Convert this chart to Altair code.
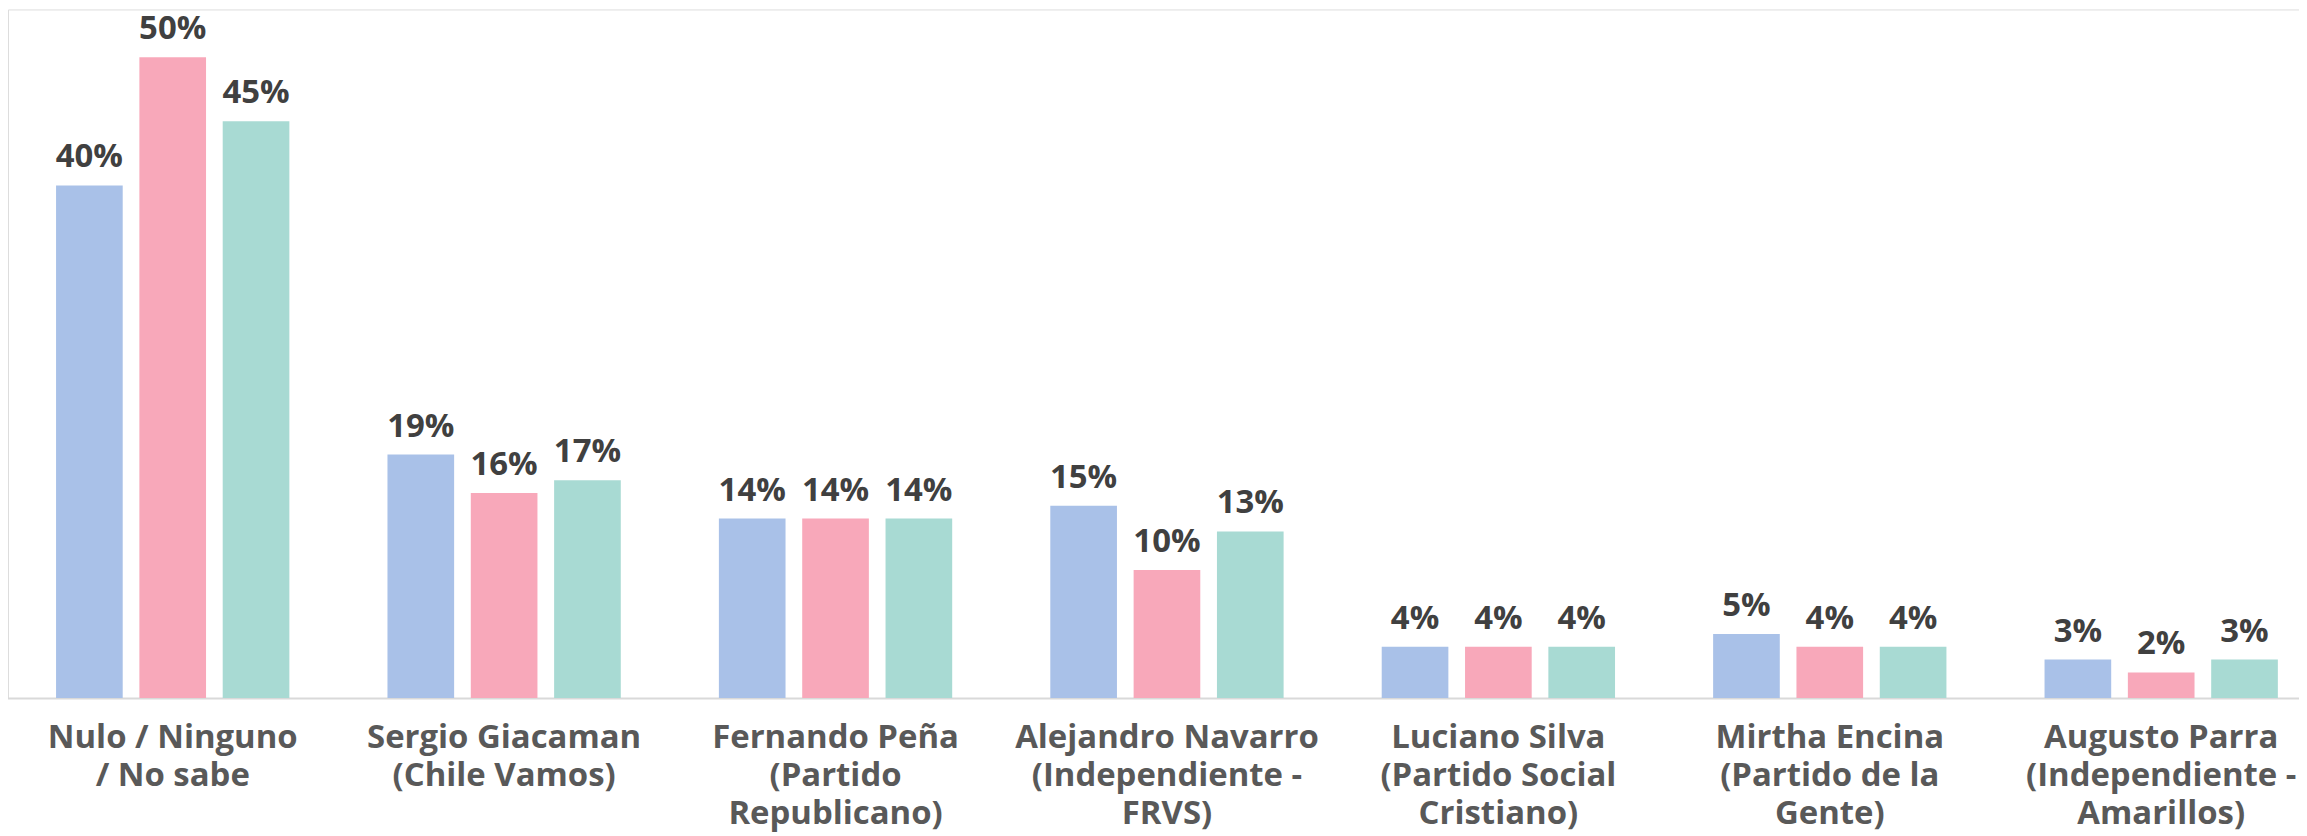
import altair as alt
import pandas as pd

categories = [
    "Nulo / Ninguno\n/ No sabe",
    "Sergio Giacaman\n(Chile Vamos)",
    "Fernando Peña\n(Partido\nRepublicano)",
    "Alejandro Navarro\n(Independiente -\nFRVS)",
    "Luciano Silva\n(Partido Social\nCristiano)",
    "Mirtha Encina\n(Partido de la\nGente)",
    "Augusto Parra\n(Independiente -\nAmarillos)",
]
series_names = ["Serie 1", "Serie 2", "Serie 3"]
serie1 = [40, 19, 14, 15, 4, 5, 3]
serie2 = [50, 16, 14, 10, 4, 4, 2]
serie3 = [45, 17, 14, 13, 4, 4, 3]
colors = ["#A9C1E8", "#F8A8BA", "#A8DAD3"]

rows = []
for name, vals in zip(series_names, [serie1, serie2, serie3]):
    for c, v in zip(categories, vals):
        rows.append({"cat": c, "serie": name, "val": v, "lab": f"{v}%"})
df = pd.DataFrame(rows)

FONT = "Open Sans"

x = alt.X(
    "cat:N",
    sort=categories,
    scale=alt.Scale(range=[-1, 2327], paddingInner=0.296, paddingOuter=0.148),
    axis=alt.Axis(
        title=None,
        labelAngle=0,
        ticks=False,
        tickSize=0,
        labelPadding=24,
        labelFont=FONT,
        labelFontSize=33,
        labelFontWeight="bold",
        labelColor="#595959",
        labelLineHeight=38,
        labelLimit=0,
        labelBaseline="top",
        labelExpr="split(datum.value, '\\n')",
        domainColor="#D9D9D9",
        domainWidth=2,
        grid=False,
    ),
)
xo = alt.XOffset(
    "serie:N",
    sort=series_names,
    scale=alt.Scale(paddingInner=0.2, paddingOuter=0),
)
y = alt.Y(
    "val:Q",
    scale=alt.Scale(domain=[0, 53.73], nice=False, zero=True),
    axis=None,
)
color = alt.Color(
    "serie:N",
    sort=series_names,
    scale=alt.Scale(domain=series_names, range=colors),
    legend=None,
)

base = alt.Chart(df)
bars = base.mark_bar().encode(x=x, xOffset=xo, y=y, color=color)
labels = base.mark_text(
    font=FONT, fontSize=33, fontWeight="bold", color="#404040",
    baseline="alphabetic", dy=-18,
).encode(x=x, xOffset=xo, y=y, text="lab:N")

chart = (
    alt.layer(bars, labels)
    .properties(
        width=2299,
        height=691,
        autosize=alt.AutoSizeParams(type="none"),
        padding={"left": 0, "top": 0, "right": 0, "bottom": 137},
    )
    .configure_view(stroke=None)
    .configure(background="white")
)

chart.save("out.html", embed_options={"renderer": "svg", "actions": False})
